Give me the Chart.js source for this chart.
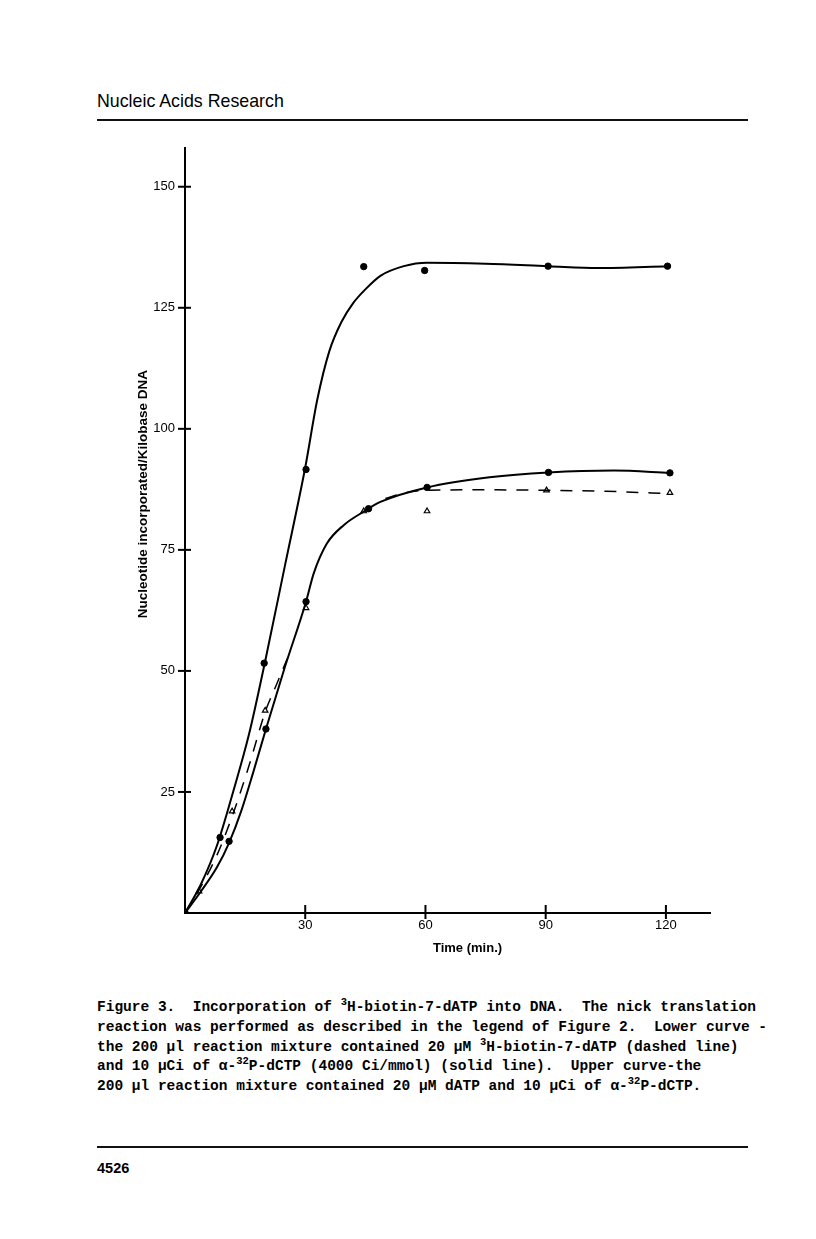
<!DOCTYPE html>
<html>
<head>
<meta charset="utf-8">
<script src="https://cdn.jsdelivr.net/npm/chart.js@4.4.1/dist/chart.umd.min.js"></script>
<style>
  body { margin: 0; background: #fff; width: 816px; height: 1239px; position: relative; overflow: hidden; }
  .abs { position: absolute; color: #000; }
  #journal { left: 97px; top: 91px; font: 17.8px/20px "Liberation Sans", Arial, sans-serif; }
  .rule { left: 97px; width: 651px; height: 2px; background: #111; }
  #caption { left: 97px; top: 998px; font: bold 14.5px/19.75px "Liberation Mono", "DejaVu Sans Mono", monospace; white-space: pre; }
  #caption sup { font-size: 10.5px; vertical-align: 6px; line-height: 0; }
  #pageno { left: 97px; top: 1160px; font: bold 14.5px/16px "Liberation Sans", Arial, sans-serif; }
  #chartBox { left: 100px; top: 130px; }
</style>
</head>
<body>
<div class="abs" id="journal">Nucleic Acids Research</div>
<div class="abs rule" style="top:119px"></div>

<div class="abs" id="chartBox"><canvas id="incorporationChart" width="640" height="850"></canvas></div>

<div class="abs" id="caption">Figure 3.  Incorporation of <sup>3</sup>H-biotin-7-dATP into DNA.  The nick translation
reaction was performed as described in the legend of Figure 2.  Lower curve -
the 200 µl reaction mixture contained 20 µM <sup>3</sup>H-biotin-7-dATP (dashed line)
and 10 µCi of α-<sup>32</sup>P-dCTP (4000 Ci/mmol) (solid line).  Upper curve-the
200 µl reaction mixture contained 20 µM dATP and 10 µCi of α-<sup>32</sup>P-dCTP.</div>

<div class="abs rule" style="top:1146px"></div>
<div class="abs" id="pageno">4526</div>

<script>
// measured points (time in min, nucleotides per kilobase)
const upperTimes  = [0, 8.75, 19.75, 30.2, 44.6, 59.8, 90.6, 120.4];
const upperValues = [0, 15.6, 51.6, 91.6, 133.5, 132.7, 133.6, 133.6];

const lowerTimes  = [0, 11, 20.2, 30.2, 45.8, 60.4, 90.7, 121];
const lowerValues = [0, 14.8, 38, 64.3, 83.5, 87.9, 91, 90.9];

const biotinTimes  = [0, 3.5, 11.75, 20, 30.2, 44.6, 60.4, 90.2, 121];
const biotinValues = [0, 4.5, 21, 41.8, 63, 83, 83, 87.3, 86.8];

// hand-drawn fitted curves
const upperCurveTimes  = [0, 4, 8, 12, 16, 20, 25, 30, 33, 36, 39, 42, 45, 48.75, 54.6, 60.4, 75, 90.5, 103, 120.5];
const upperCurveValues = [0, 6, 14, 25, 37, 52, 72, 92, 106, 116, 122, 126, 128.8, 131.6, 133.6, 134.3, 134.1, 133.6, 133.2, 133.6];

const lowerCurveTimes  = [0, 4, 8, 11, 14, 17, 20.2, 25, 30.2, 32.1, 35.4, 39.6, 44.6, 48.75, 60.4, 76, 90.7, 107, 121];
const lowerCurveValues = [0, 4.5, 9.5, 14.5, 21, 29, 38, 51, 64.3, 70.1, 76.3, 80.1, 82.9, 84.9, 87.9, 90, 91, 91.4, 90.9];

const dashedTimes  = [0, 4, 8, 12, 16, 20, 23, 25.5, 38, 50, 55, 60.4, 75, 90.2, 105, 121];
const dashedValues = [0, 5.5, 12, 20.5, 30.5, 41.5, 47.5, 52.5, null, 85.6, 86.8, 87.3, 87.4, 87.3, 87.1, 86.6];

const xTicks = [30, 60, 90, 120];
const yTicks = [25, 50, 75, 100, 125, 150];
const xTitle = 'Time (min.)';
const yTitle = 'Nucleotide incorporated/Kilobase DNA';

const pairs = (xs, ys) => xs.map((x, i) => ({ x: x, y: ys[i] }));

// tick marks crossing the axis lines and the axis titles, placed as in the figure
const axisDecor = {
    id: 'axisDecor',
    afterDraw(chart) {
        const { ctx, scales: { x, y } } = chart;
        ctx.save();
        ctx.strokeStyle = '#000';
        ctx.lineWidth = 2;
        xTicks.forEach(v => {
            const px = x.getPixelForValue(v);
            ctx.beginPath();
            ctx.moveTo(px, x.top - 8);
            ctx.lineTo(px, x.top + 6);
            ctx.stroke();
        });
        yTicks.forEach(v => {
            const py = y.getPixelForValue(v);
            ctx.beginPath();
            ctx.moveTo(y.right - 7, py);
            ctx.lineTo(y.right + 6, py);
            ctx.stroke();
        });

        ctx.fillStyle = '#000';
        ctx.textAlign = 'center';
        ctx.textBaseline = 'middle';
        ctx.font = 'bold 13px "Liberation Sans"';
        ctx.fillText(xTitle, x.getPixelForValue(70.5), x.top + 35);

        ctx.font = 'bold 13.5px "Liberation Sans"';
        ctx.translate(y.left + 43, y.getPixelForValue(86.5));
        ctx.rotate(-Math.PI / 2);
        ctx.fillText(yTitle, 0, 0);
        ctx.restore();
    }
};

const ctx = document.getElementById('incorporationChart').getContext('2d');

new Chart(ctx, {
    type: 'scatter',
    data: {
        datasets: [
            {
                data: pairs(upperCurveTimes, upperCurveValues),
                showLine: true,
                borderColor: '#000',
                borderWidth: 2,
                pointRadius: 0,
                cubicInterpolationMode: 'monotone'
            },
            {
                data: pairs(lowerCurveTimes, lowerCurveValues),
                showLine: true,
                borderColor: '#000',
                borderWidth: 2,
                pointRadius: 0,
                cubicInterpolationMode: 'monotone'
            },
            {
                data: pairs(dashedTimes, dashedValues),
                showLine: true,
                spanGaps: false,
                borderColor: '#000',
                borderWidth: 1.5,
                borderDash: [12, 10],
                pointRadius: 0,
                cubicInterpolationMode: 'monotone'
            },
            {
                data: pairs(upperTimes, upperValues),
                pointStyle: 'circle',
                pointRadius: 3.2,
                backgroundColor: '#000',
                borderColor: '#000'
            },
            {
                data: pairs(lowerTimes, lowerValues),
                pointStyle: 'circle',
                pointRadius: 3.2,
                backgroundColor: '#000',
                borderColor: '#000'
            },
            {
                data: pairs(biotinTimes, biotinValues),
                pointStyle: 'triangle',
                pointRadius: 3.2,
                borderWidth: 1.2,
                backgroundColor: '#fff',
                borderColor: '#000'
            }
        ]
    },
    options: {
        responsive: false,
        animation: false,
        events: [],
        layout: { padding: { top: 18, right: 30, left: 0, bottom: 0 } },
        plugins: {
            legend: { display: false },
            tooltip: { enabled: false }
        },
        scales: {
            x: {
                type: 'linear',
                min: 0,
                max: 131,
                afterFit: scale => { scale.height = 67; },
                afterBuildTicks: scale => { scale.ticks = xTicks.map(v => ({ value: v })); },
                border: { color: '#000', width: 2 },
                grid: { display: false, drawTicks: false },
                ticks: { color: '#000', padding: 5, font: { family: 'Liberation Sans', size: 13 } }
            },
            y: {
                min: 0,
                max: 158,
                afterFit: scale => { scale.width = 85; },
                afterBuildTicks: scale => { scale.ticks = yTicks.map(v => ({ value: v })); },
                border: { color: '#000', width: 2 },
                grid: { display: false, drawTicks: false },
                ticks: { color: '#000', padding: 10, font: { family: 'Liberation Sans', size: 13 } }
            }
        }
    },
    plugins: [axisDecor]
});
</script>
</body>
</html>
